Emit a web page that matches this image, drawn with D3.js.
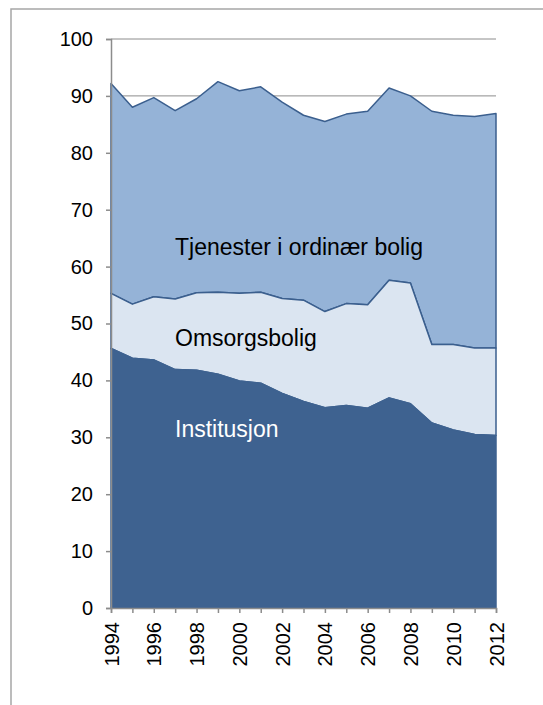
<!DOCTYPE html>
<html>
<head>
<meta charset="utf-8">
<script src="https://cdn.jsdelivr.net/npm/d3@7"></script>
<style>
  body { margin: 0; background: #fff; }
  svg { display: block; font-family: "Liberation Sans", Arial, sans-serif; }
</style>
</head>
<body>
<div id="chart"></div>
<script>
// Data
var years = [1994, 1995, 1996, 1997, 1998, 1999, 2000, 2001, 2002, 2003,
  2004, 2005, 2006, 2007, 2008, 2009, 2010, 2011, 2012];
var institusjon = [45.6, 43.9, 43.6, 41.9, 41.8, 41.1, 39.9, 39.5, 37.7, 36.3,
  35.2, 35.6, 35.1, 36.9, 35.9, 32.5, 31.3, 30.5, 30.3];
var omsorgsbolig = [9.7, 9.5, 11.1, 12.4, 13.6, 14.4, 15.4, 16.0, 16.7, 17.8,
  16.9, 17.9, 18.2, 20.7, 21.2, 13.8, 15.0, 15.2, 15.4];
var tjenester = [36.9, 34.6, 35.0, 33.1, 34.1, 37.0, 35.6, 36.1, 34.5, 32.5,
  33.4, 33.3, 34.0, 33.8, 32.9, 41.0, 40.3, 40.7, 41.2];
var seriesNames = ["Institusjon", "Omsorgsbolig", "Tjenester i ordinær bolig"];
var yTicks = [0, 10, 20, 30, 40, 50, 60, 70, 80, 90, 100];

var svgWidth = 543;
var svgHeight = 705;

// plot area
var plot = { left: 111, right: 496, top: 39, bottom: 608 };

var svg = d3.select("#chart")
  .append("svg")
  .attr("width", svgWidth)
  .attr("height", svgHeight);

// outer frame
svg.append("rect")
  .attr("x", 11)
  .attr("y", 9)
  .attr("width", 600)
  .attr("height", 710)
  .attr("fill", "none")
  .attr("stroke", "#a6a6a6")
  .attr("stroke-width", 1.5);

var xScale = d3.scaleLinear().domain([1994, 2012]).range([plot.left, plot.right]);
var yScale = d3.scaleLinear().domain([0, 100]).range([plot.bottom, plot.top]);

// gridlines
svg.append("g")
  .selectAll("line")
  .data(yTicks.filter(d => d > 0))
  .enter()
  .append("line")
  .attr("x1", plot.left)
  .attr("x2", plot.right)
  .attr("y1", d => yScale(d))
  .attr("y2", d => yScale(d))
  .attr("stroke", "#8c8c8c")
  .attr("stroke-width", 1);

// stack the three series
var rows = years.map(function(y, i) {
  return {
    year: y,
    "Institusjon": institusjon[i],
    "Omsorgsbolig": omsorgsbolig[i],
    "Tjenester i ordinær bolig": tjenester[i]
  };
});
var stacked = d3.stack().keys(seriesNames)(rows);

var fills = ["#3e6290", "#dbe5f1", "#95b3d7"];
var strokes = ["#3e6290", "#3b5f8e", "#3b5f8e"];

var area = d3.area()
  .x(d => xScale(d.data.year))
  .y0(d => yScale(d[0]))
  .y1(d => yScale(d[1]));

// draw top layer first so the lower outlines sit on top
svg.append("g")
  .selectAll("path")
  .data(stacked.slice().reverse())
  .enter()
  .append("path")
  .attr("d", area)
  .attr("fill", d => fills[d.index])
  .attr("stroke", d => strokes[d.index])
  .attr("stroke-width", 1.5)
  .attr("stroke-linejoin", "round");

// y axis
var leftAxis = d3.axisLeft(yScale)
  .tickValues(yTicks)
  .tickSize(5)
  .tickPadding(13);

var yAxisG = svg.append("g")
  .attr("transform", `translate(${plot.left}, 0)`)
  .call(leftAxis);
yAxisG.select(".domain").attr("stroke", "#8c8c8c").attr("stroke-width", 1.5);
yAxisG.selectAll(".tick line").attr("stroke", "#8c8c8c").attr("stroke-width", 1.5);
yAxisG.selectAll(".tick text")
  .attr("font-size", 20)
  .attr("font-family", "Liberation Sans, Arial, sans-serif")
  .attr("fill", "#000");

// x axis
var bottomAxis = d3.axisBottom(xScale)
  .tickValues(years)
  .tickSize(5)
  .tickFormat(d => (d % 2 === 0 ? d : ""));

var xAxisG = svg.append("g")
  .attr("transform", `translate(0, ${plot.bottom})`)
  .call(bottomAxis);
xAxisG.select(".domain").attr("stroke", "#8c8c8c").attr("stroke-width", 1.5);
xAxisG.selectAll(".tick line").attr("stroke", "#8c8c8c").attr("stroke-width", 1.5);
xAxisG.selectAll(".tick text")
  .attr("font-size", 20)
  .attr("font-family", "Liberation Sans, Arial, sans-serif")
  .attr("fill", "#000")
  .attr("text-anchor", "end")
  .attr("dy", "0.35em")
  .attr("transform", "translate(0, 14) rotate(-90)")
  .attr("x", 0)
  .attr("y", 0);

// series labels inside the areas
var labels = [
  { text: "Tjenester i ordinær bolig", x: 175, y: 255, color: "#000" },
  { text: "Omsorgsbolig", x: 175, y: 346, color: "#000" },
  { text: "Institusjon", x: 175, y: 437, color: "#fff" }
];

svg.append("g")
  .selectAll("text")
  .data(labels)
  .enter()
  .append("text")
  .attr("x", d => d.x)
  .attr("y", d => d.y)
  .attr("font-size", 23)
  .attr("fill", d => d.color)
  .text(d => d.text);
</script>
</body>
</html>
